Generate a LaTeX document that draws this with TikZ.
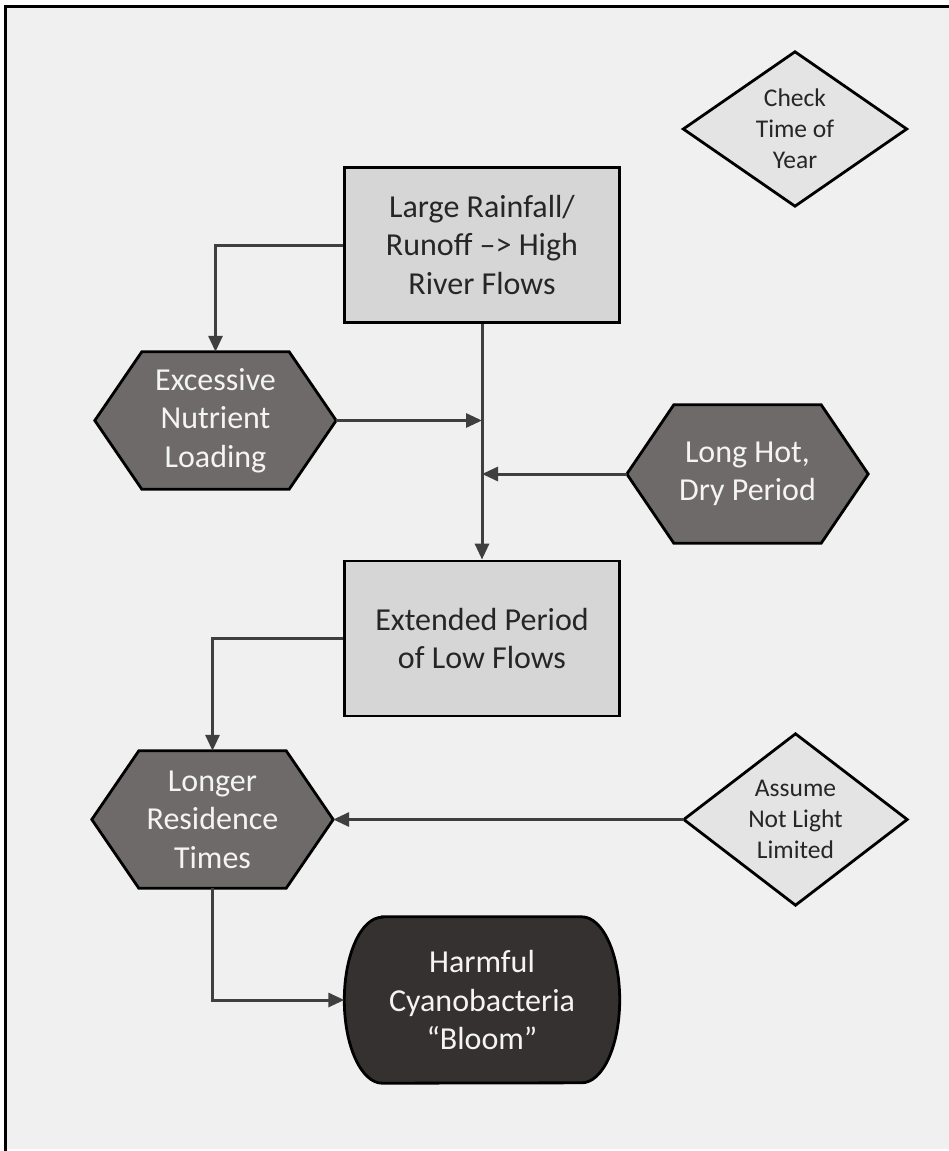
\documentclass[tikz,border=0pt]{standalone}
\usepackage{fontspec}
\setmainfont{Carlito}
\usetikzlibrary{arrows.meta,calc}
\definecolor{pagebg}{HTML}{F0F0F0}
\definecolor{boxfill}{HTML}{D6D6D6}
\definecolor{diafill}{HTML}{E4E4E4}
\definecolor{hexfill}{HTML}{6E6A6A}
\definecolor{bloomfill}{HTML}{363131}
\definecolor{linecol}{HTML}{3F3F3F}
\definecolor{txtdark}{HTML}{262626}
\definecolor{txtlight}{HTML}{F4F4F4}
\pgfdeclarelayer{back}
\pgfdeclarelayer{shapes}
\pgfsetlayers{back,shapes,main}
\tikzset{
  bigtext/.style={font=\fontsize{32}{38.5}\selectfont, align=center, inner sep=0pt},
  smalltext/.style={font=\fontsize{25.5}{31}\selectfont, align=center, inner sep=0pt, text=txtdark},
  boxnode/.style={bigtext, rectangle, draw=black, line width=2.8pt, fill=boxfill, text=txtdark,
    minimum width=275pt, minimum height=155pt},
  hexnode/.style={bigtext, rectangle, text=txtlight, minimum width=241pt, minimum height=137pt},
  dianode/.style={smalltext, rectangle, minimum width=223pt},
  hexshape/.style={draw=black, line width=2.8pt, fill=hexfill, line join=miter},
  diashape/.style={draw=black, line width=2.8pt, fill=diafill, line join=miter},
  conn/.style={draw=linecol, line width=3pt, -{Triangle[length=16pt,width=14pt]}},
}
\begin{document}
\begin{tikzpicture}[x=1pt,y=1pt]
\useasboundingbox (0,0) rectangle (949,-1151);
\begin{pgfonlayer}{back}
\fill[white] (0,0) rectangle (949,-1151);
\fill[pagebg] (5,-6) rectangle (949,-1149);
\draw[black, line width=3pt, line join=miter] (5,-1151) -- (5,-6.5) -- (949,-6.5);
\end{pgfonlayer}

% nodes
\node[dianode, minimum height=154pt] (d1) at (795,-129) {Check\\Time of\\Year};
\node[boxnode] (r1) at (482,-245) {Large Rainfall/\\Runoff –> High\\River Flows};
\node[hexnode] (hE) at (215.5,-420.5) {Excessive\\Nutrient\\Loading};
\node[hexnode, minimum height=138pt] (hL) at (747.5,-474) {Long Hot,\\Dry Period};
\node[boxnode] (r2) at (482,-638.5) {Extended Period\\of Low Flows};
\node[hexnode] (hR) at (212.5,-819.5) {Longer\\Residence\\Times};
\node[dianode, minimum height=171pt] (d2) at (795.5,-819.5) {Assume\\Not Light\\Limited};
\node[bigtext, rectangle, text=txtlight, minimum width=275pt, minimum height=166pt] (bloom) at (482,-1000) {Harmful\\Cyanobacteria\\“Bloom”};

% shapes
\begin{pgfonlayer}{shapes}
\draw[diashape] (d1.north) -- (d1.east) -- (d1.south) -- (d1.west) -- cycle;
\draw[diashape] (d2.north) -- (d2.east) -- (d2.south) -- (d2.west) -- cycle;
\foreach \h in {hE,hL,hR}{
  \draw[hexshape] (\h.west) -- ($(\h.north west)+(47,0)$) -- ($(\h.north east)+(-47,0)$)
    -- (\h.east) -- ($(\h.south east)+(-47,0)$) -- ($(\h.south west)+(47,0)$) -- cycle;
}
\draw[draw=black, line width=2.8pt, fill=bloomfill]
  ($(bloom.north west)+(38,0)$) -- ($(bloom.north east)+(-38,0)$)
  arc[start angle=90, end angle=-90, x radius=38, y radius=83]
  -- ($(bloom.south west)+(38,0)$)
  arc[start angle=270, end angle=90, x radius=38, y radius=83] -- cycle;
\end{pgfonlayer}

% connectors
\begin{pgfonlayer}{shapes}
\draw[conn] (r1.west) -| (hE.north);
\draw[conn] (r1.south) -- (r2.north);
\coordinate (j1) at (hE.east -| r1.south);
\coordinate (j2) at (hL.west -| r1.south);
\draw[conn] (hE.east) -- (j1);
\draw[conn] (hL.west) -- (j2);
\draw[conn] (r2.west) -| (hR.north);
\draw[conn] (d2.west) -- (hR.east);
\draw[conn] (hR.south) |- (bloom.west);
\end{pgfonlayer}
\end{tikzpicture}
\end{document}
